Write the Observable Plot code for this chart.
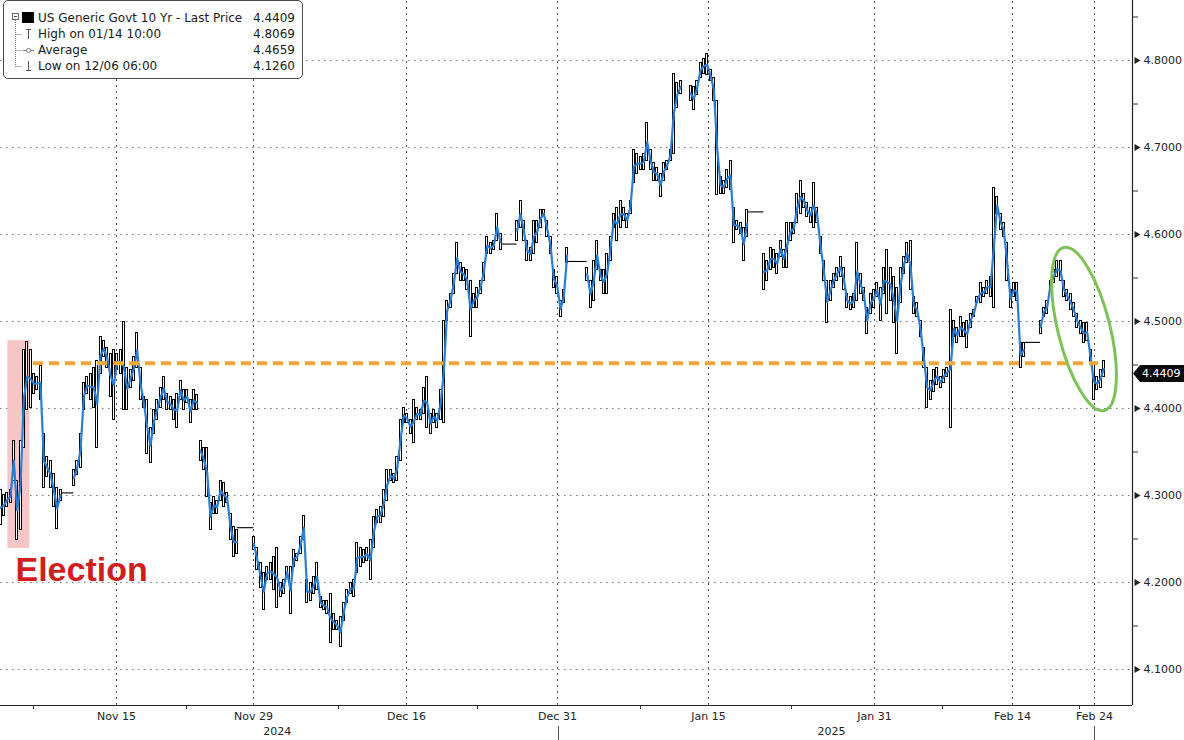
<!DOCTYPE html>
<html><head><meta charset="utf-8">
<script src="https://cdn.jsdelivr.net/npm/d3@7"></script>
<script src="https://cdn.jsdelivr.net/npm/@observablehq/plot@0.6"></script>
<style>
body{margin:0;background:#fff;}
#wrap{position:relative;width:1184px;height:740px;overflow:hidden;background:#fff;}
#legend{position:absolute;left:3px;top:0px;width:298px;height:77px;border:1px solid #4a4a4a;border-radius:5px;background:#fff;font:12px "DejaVu Sans",sans-serif;color:#1a1a1a;}
#legend .row{position:absolute;left:34px;right:7px;height:16px;line-height:16px;white-space:nowrap;}
#legend .row .v{position:absolute;right:0;top:0;}
</style></head><body><div id="wrap"></div>
<script>
// Hourly-ish buckets (each bucket = one sample step on the chart's trading-time axis)
const highs = [
4.306,4.300,4.303,4.306,4.363,4.317,4.363,4.467,4.476,4.467,
4.440,4.436,4.449,4.371,4.344,4.340,4.325,4.309,4.306,null,
null,null,4.329,4.340,4.371,4.429,4.436,4.440,4.447,4.455,
4.482,4.478,4.470,4.463,4.467,4.463,4.467,4.499,4.447,4.444,
4.459,4.487,4.447,4.413,4.410,4.378,4.398,4.410,4.424,4.436,
4.417,4.413,4.410,4.417,4.432,4.421,4.421,4.410,4.421,4.415,
4.363,4.355,4.355,4.291,4.298,4.294,4.317,4.314,4.303,4.279,
4.264,4.260,null,null,null,null,4.252,4.240,4.222,4.211,
4.218,4.222,4.229,4.240,4.199,4.203,4.218,4.218,4.237,4.233,
4.252,4.277,4.203,4.199,4.206,4.222,4.183,4.179,4.179,4.187,
4.164,4.156,4.160,4.176,4.191,4.199,4.203,4.245,4.240,4.237,
4.240,4.249,4.275,4.283,4.287,4.306,4.329,4.329,4.325,4.344,
4.387,4.401,4.394,4.387,4.410,4.401,4.398,4.424,4.436,4.394,
4.398,4.394,4.421,4.501,4.524,4.532,4.555,4.590,4.567,4.562,
4.559,4.547,4.532,4.539,4.547,4.567,4.597,4.590,4.593,4.624,
4.601,null,null,null,null,4.616,4.639,4.616,4.593,4.585,
4.616,4.616,4.628,4.628,4.616,4.597,4.559,4.551,4.524,4.536,
4.585,null,null,null,null,null,4.562,4.547,4.570,4.593,
4.559,4.559,4.578,4.597,4.624,4.631,4.639,4.631,4.624,4.639,
4.697,4.693,4.689,4.693,4.728,4.697,4.682,4.677,4.670,4.682,
4.685,4.697,4.785,4.774,4.777,null,null,4.771,4.769,4.777,
4.797,4.802,4.807,4.789,4.780,4.754,4.666,4.662,4.674,4.685,
4.631,4.616,4.613,4.608,4.628,null,null,null,null,4.578,
4.570,4.585,4.582,4.578,4.593,4.582,4.613,4.613,4.613,4.647,
4.662,4.647,4.636,4.631,4.659,4.631,4.597,4.570,4.547,4.547,
4.555,4.562,4.574,4.562,4.532,4.528,4.532,4.590,4.555,4.539,
4.516,4.532,4.536,4.544,4.539,4.562,4.582,4.562,4.551,4.539,
4.562,4.574,4.590,4.593,4.528,4.521,4.501,4.470,4.447,4.432,
4.444,4.447,4.436,4.444,4.447,4.513,4.501,4.493,4.505,4.498,
4.501,4.509,4.513,4.528,4.544,4.539,4.547,4.551,4.654,4.643,
4.624,4.613,4.590,4.536,4.544,4.544,4.475,4.475,null,null,
null,null,4.501,4.516,4.524,4.547,4.559,4.570,4.570,4.547,
4.536,4.532,4.521,4.509,4.501,4.498,4.498,4.467,4.452,4.436,
4.444,4.455];
const lows = [
4.266,4.277,4.287,4.291,4.317,4.249,4.260,4.355,4.398,4.401,
4.417,4.421,4.410,4.309,4.321,4.309,4.287,4.262,4.294,null,
null,null,4.311,4.323,4.332,4.398,4.417,4.410,4.401,4.355,
4.440,4.459,4.447,4.413,4.387,4.444,4.440,4.398,4.398,4.424,
4.432,4.447,4.410,4.401,4.348,4.337,4.371,4.387,4.401,4.410,
4.398,4.398,4.387,4.378,4.410,4.398,4.406,4.383,4.398,4.398,
4.340,4.329,4.298,4.260,4.279,4.279,4.294,4.287,4.291,4.249,
4.229,4.233,null,null,null,null,4.237,4.214,4.194,4.168,
4.203,4.203,4.191,4.171,4.183,4.187,4.206,4.164,4.218,4.225,
4.233,4.249,4.176,4.179,4.187,4.191,4.171,4.168,4.164,4.130,
4.145,4.145,4.126,4.156,4.176,4.187,4.183,4.211,4.218,4.222,
4.225,4.203,4.240,4.268,4.268,4.275,4.294,4.317,4.314,4.317,
4.340,4.383,4.383,4.371,4.360,4.387,4.387,4.394,4.378,4.371,
4.383,4.378,4.387,4.383,4.501,4.516,4.532,4.555,4.547,4.547,
4.536,4.482,4.516,4.516,4.532,4.547,4.578,4.578,4.582,4.593,
4.582,null,null,null,null,4.593,4.608,4.593,4.570,4.570,
4.578,4.590,4.608,4.620,4.597,4.578,4.539,4.532,4.505,4.521,
4.567,null,null,null,null,null,4.547,4.516,4.524,4.559,
4.547,4.532,4.532,4.570,4.608,4.593,4.608,4.616,4.608,4.624,
4.659,4.670,4.674,4.674,4.685,4.674,4.662,4.662,4.643,4.662,
4.674,4.685,4.693,4.746,4.762,null,null,4.754,4.743,4.760,
4.780,4.785,4.783,4.777,4.754,4.645,4.647,4.647,4.654,4.651,
4.590,4.605,4.601,4.570,4.597,null,null,null,null,4.536,
4.547,4.559,4.562,4.555,4.574,4.562,4.562,4.593,4.601,4.613,
4.624,4.631,4.620,4.613,4.608,4.613,4.578,4.547,4.498,4.524,
4.539,4.547,4.551,4.536,4.516,4.513,4.516,4.524,4.532,4.524,
4.486,4.509,4.516,4.528,4.501,4.532,4.509,4.524,4.498,4.463,
4.521,4.555,4.567,4.536,4.509,4.505,4.482,4.447,4.401,4.410,
4.419,4.427,4.424,4.429,4.436,4.378,4.482,4.475,4.482,4.482,
4.470,4.493,4.505,4.521,4.521,4.528,4.532,4.528,4.516,4.624,
4.605,4.597,4.547,4.516,4.528,4.524,4.447,4.459,null,null,
null,null,4.486,4.505,4.509,4.536,4.544,4.551,4.547,4.528,
4.524,4.513,4.505,4.493,4.486,4.475,4.478,4.452,4.410,4.421,
4.424,4.436];
const sessionBreaks = [60];
// holiday sessions drawn as flat last-price lines
const holidayStart = [18, 71, 150, 170, 224, 307];
const holidayEnd   = [22, 76, 155, 176, 229, 312];
const holidayLevel = [4.303, 4.263, 4.589, 4.569, 4.626, 4.476];

const xTickPos = [34.8, 75.9, 121.8, 167.1, 212.4, 262.2, 303.6, 328.2];
const xTickLabels = ["Nov 15","Nov 29","Dec 16","Dec 31","Jan 15","Jan 31","Feb 14","Feb 24"];
const xMinorPos = [9.9, 55.8, 101.4, 143.1, 192, 237.3, 282.6, 323.7];
const yearPos = [83, 249.3];
const yearLabels = ["2024","2025"];
const yearMarks = [167.4, 328.2];
const yTicks = [4.1,4.2,4.3,4.4,4.5,4.6,4.7,4.8];
const yMinor = [4.15,4.25,4.35,4.45,4.55,4.65,4.75,4.85];

const lastPrice = 4.4409;
const legendRows = [
  ["US Generic Govt 10 Yr - Last Price", "4.4409"],
  ["High on 01/14 10:00", "4.8069"],
  ["Average", "4.4659"],
  ["Low on 12/06 06:00", "4.1260"]
];
const electionBand = {x1: 2.2, x2: 8.8, y1: 4.239, y2: 4.478};
const electionLabel = {x: 4.5, y: 4.214, text: "Election"};
const refLevel = {x1: 9.9, x2: 329.4, y: 4.452};
const circled = {x: 325.2, y: 4.4908, rx: 26, ry: 84, angle: -14};

const xMax = 339.6, yMin = 4.0586, yMax = 4.869;
const k = (yMax - yMin) / 705;
const kx = xMax / 1132;

const bars = highs.map((h, i) => ({i, hi: h, lo: lows[i], seg: sessionBreaks.filter(b => b <= i).length}));
const valid = bars.filter(d => d.hi != null);
const holidays = holidayStart.map((s, j) => ({s, e: holidayEnd[j], v: holidayLevel[j]}));

const plot = Plot.plot({
  width: 1184, height: 740,
  marginLeft: 0, marginRight: 52, marginTop: 0, marginBottom: 35,
  x: {domain: [0, xMax], axis: null},
  y: {domain: [yMin, yMax], axis: null},
  style: {fontFamily: "DejaVu Sans", fontSize: "11px", color: "#222", background: "#fff", overflow: "visible"},
  marks: [
    Plot.ruleY(yTicks, {x1: 0, x2: xMax, stroke: "#777", strokeDasharray: "1.5,4.5", strokeWidth: 1}),
    Plot.ruleX(xTickPos, {y1: yMin, y2: yMax, stroke: "#555", strokeDasharray: "2,4", strokeWidth: 1}),
    Plot.rect([electionBand], {x1: "x1", x2: "x2", y1: "y1", y2: "y2", fill: "#f6c6c6"}),
    Plot.ruleY(holidays, {x1: "s", x2: "e", y: "v", stroke: "#000", strokeWidth: 1.1}),
    Plot.rect(valid, {x1: d => d.i - 0.3, x2: d => d.i + 0.3, y1: "lo", y2: "hi", fill: "#fff", stroke: "#000", strokeWidth: 1, shapeRendering: "crispEdges"}),
    Plot.line(bars, {x: "i", y: d => d.hi == null ? NaN : (d.hi + d.lo) / 2, z: "seg", stroke: "#2b7dd2", strokeWidth: 2.2}),
    Plot.ruleY([refLevel], {x1: "x1", x2: "x2", y: "y", stroke: "#f3a73b", strokeWidth: 4, strokeDasharray: "10,6"}),
    Plot.text([electionLabel], {x: "x", y: "y", text: "text", textAnchor: "start", fontSize: 34, fontWeight: "bold", fontFamily: "Liberation Sans", fill: "#d21d1d"}),
    // axes frame
    Plot.ruleX([xMax], {y1: yMin, y2: yMax, stroke: "#222", strokeWidth: 1.2}),
    Plot.ruleY([yMin], {x1: 0, x2: xMax, stroke: "#222", strokeWidth: 1.2}),
    // right axis
    Plot.ruleY(yMinor, {x1: xMax, x2: xMax + 6 * kx, stroke: "#333"}),
    Plot.dot(yTicks, {x: xMax, y: d => d, symbol: "triangle", r: 2.6, rotate: 90, fill: "#222", stroke: null, dx: 4}),
    Plot.text(yTicks, {x: xMax, y: d => d, text: d => d.toFixed(4), textAnchor: "start", dx: 11, fill: "#222", fontSize: 11}),
    // bottom axis
    Plot.ruleX(xMinorPos, {y1: yMin, y2: yMin - 4 * k, stroke: "#333"}),
    Plot.text(xTickPos, {x: d => d, y: yMin, text: (d, i) => xTickLabels[i], dy: 11, fill: "#222", fontSize: 11}),
    Plot.text(yearPos, {x: d => d, y: yMin, text: (d, i) => yearLabels[i], dy: 26, fill: "#222", fontSize: 11}),
    Plot.ruleX(yearMarks, {y1: yMin - 21 * k, y2: yMin - 36 * k, stroke: "#555"})
  ]
});

const wrap = document.getElementById("wrap");
wrap.appendChild(plot);
const svg = d3.select(plot);
const X = plot.scale("x"), Y = plot.scale("y");

// circled annotation
const cx = X.apply(circled.x), cy = Y.apply(circled.y);
svg.append("ellipse").attr("cx", cx).attr("cy", cy).attr("rx", circled.rx).attr("ry", circled.ry)
  .attr("transform", `rotate(${circled.angle},${cx},${cy})`)
  .attr("fill", "none").attr("stroke", "#7cc257").attr("stroke-width", 3);

// last price tag
const ty = Y.apply(lastPrice) + 1;
const tx = X.apply(xMax) + 1;
svg.append("path").attr("d", `M${tx},${ty} L${tx+7},${ty-8.5} L1184,${ty-8.5} L1184,${ty+8.5} L${tx+7},${ty+8.5} Z`).attr("fill", "#0b0b0b");
svg.append("text").attr("x", tx + 9).attr("y", ty + 4).attr("text-anchor", "start").attr("fill", "#fff").attr("font-family", "DejaVu Sans").attr("font-size", 11).text(lastPrice.toFixed(4));

// legend
const leg = document.createElement("div");
leg.id = "legend";
leg.innerHTML = `<svg width="36" height="77" style="position:absolute;left:0;top:0">
  <line x1="11.5" y1="19" x2="11.5" y2="65.5" stroke="#777" stroke-dasharray="1,1"/>
  <line x1="11.5" y1="33.5" x2="18" y2="33.5" stroke="#777" stroke-dasharray="1,1"/>
  <line x1="11.5" y1="49.5" x2="18" y2="49.5" stroke="#777" stroke-dasharray="1,1"/>
  <line x1="11.5" y1="65.5" x2="18" y2="65.5" stroke="#777" stroke-dasharray="1,1"/>
  <rect x="8.5" y="12.5" width="6" height="6" fill="#fff" stroke="#666"/>
  <line x1="10" y1="15.5" x2="13" y2="15.5" stroke="#444"/>
  <rect x="18" y="11" width="12" height="11" fill="#000"/>
  <line x1="24.5" y1="28" x2="24.5" y2="38" stroke="#555"/><line x1="22" y1="28.5" x2="27" y2="28.5" stroke="#555"/>
  <line x1="19" y1="49.5" x2="30" y2="49.5" stroke="#777"/><circle cx="24.5" cy="49.5" r="2" fill="#fff" stroke="#777"/>
  <line x1="24.5" y1="60" x2="24.5" y2="70" stroke="#555"/><line x1="22" y1="69.5" x2="27" y2="69.5" stroke="#555"/>
</svg>` + legendRows.map((r, j) => `<div class="row" style="top:${8.5 + j * 16.2}px">${r[0]}<span class="v">${r[1]}</span></div>`).join("");
wrap.appendChild(leg);
</script></body></html>
